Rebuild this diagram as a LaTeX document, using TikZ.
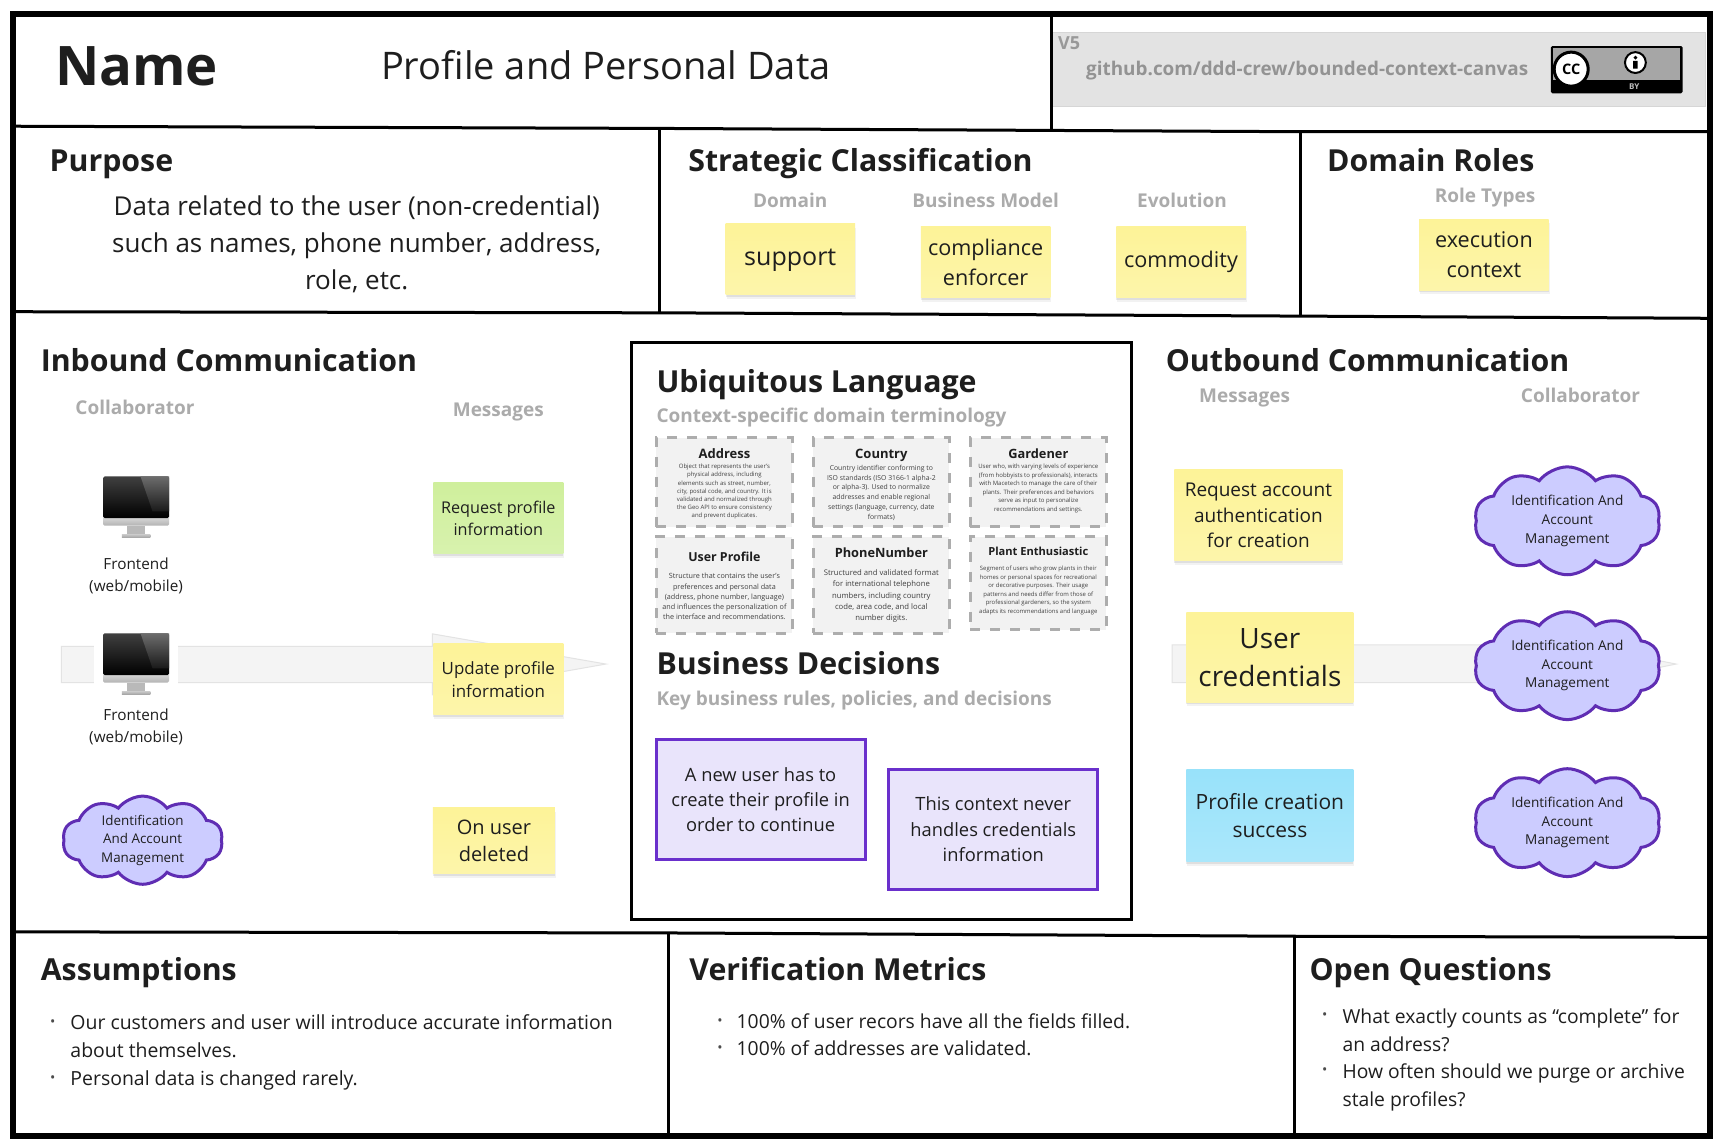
\documentclass[tikz,border=0pt]{standalone}
\usepackage{fontspec}
\setmainfont{Open Sans}
\usetikzlibrary{shapes.symbols,shadows}
\definecolor{ink}{HTML}{1E1E1E}
\definecolor{hint}{HTML}{ABABAB}
\definecolor{noteyellow}{HTML}{FDF398}
\definecolor{notegreen}{HTML}{CFEF9C}
\definecolor{noteblue}{HTML}{98E2FA}
\definecolor{cloudfill}{HTML}{CCCCFF}
\definecolor{violet}{HTML}{5F2DB3}
\definecolor{rulefill}{HTML}{E9E4FB}
\definecolor{rulelinecol}{HTML}{6A30CC}
\newcommand{\fs}[2]{\fontsize{#1}{#2}\selectfont}
\tikzset{
  heading/.style={font=\bfseries\fs{30.3}{34},text=ink,anchor=west,inner sep=0,text height=22.4pt,text depth=0pt},
  hinttext/.style={font=\bfseries\fs{19}{22},text=hint,inner sep=0,text height=14pt,text depth=0pt},
  body/.style={font=\fs{19.3}{27.6},text=ink,align=left,anchor=west,inner sep=0},
  dot/.style={font=\fs{14}{14},text=ink!80,inner sep=0},
  note/.style={top color=#1,bottom color=#1!82!white,text=ink,align=center,inner sep=0,
    drop shadow={shadow xshift=0pt,shadow yshift=-2pt,opacity=.08,fill=black},
    drop shadow={shadow xshift=1pt,shadow yshift=-4pt,opacity=.05,fill=black}},
  rulebox/.style={draw=rulelinecol,line width=3pt,fill=rulefill,text=ink,align=center,
    minimum width=209pt,minimum height=120pt,inner sep=0,font=\fs{18.3}{25.3}},
  term/.style={draw=black!32,fill=black!5,line width=2.8pt,dash pattern=on 10pt off 10pt,
    minimum width=136pt,inner sep=0},
  termhead/.style={font=\bfseries\fs{13}{16},text=ink,inner sep=0,text height=9.6pt,text depth=0pt},
  termtext/.style={text=ink!85,align=center,inner sep=0},
  team/.style={shape=cloud,cloud puffs=10,cloud puff arc=105,aspect=1.8,draw=violet,
    line width=3pt,fill=cloudfill,text=ink,align=center,inner sep=0,
    font=\fs{13.6}{18.7}},
  bigarrow/.style={fill=black!4.5,draw=black!11,line width=1pt},
  partline/.style={line width=3pt,black},
  monitor/.pic={
    \fill[white] (-38,-29) rectangle (38,30);
    \fill[gray!55] (-8,17) rectangle (8,25);
    \shade[top color=gray!45,bottom color=gray!75] (-13,25) rectangle (13,28);
    \shade[rounded corners=1.5pt,top color=gray!15,bottom color=gray!60] (-30,5) rectangle (30,17);
    \shade[rounded corners=1.5pt,top color=black!75,bottom color=black] (-30,-28) rectangle (30,10);
    \shade[top color=gray!85!black,bottom color=black!90] (4,-28) -- (30,-28) -- (30,4) -- (15,4) -- cycle;
  }
}
\begin{document}
\begin{tikzpicture}[x=1.0976pt,y=-1.0976pt]
  \useasboundingbox (0,0) rectangle (1568,1042.3);
  \fill[white] (0,0) rectangle (1568,1042.3);

  % big arrows, they sit behind the stickers
  \draw[bigarrow] (56,589) -- (394,589) -- (394,577.5) -- (552,605) -- (394,633) -- (394,622) -- (56,622) -- cycle;
  \draw[bigarrow] (1068,587.5) -- (1390,587.5) -- (1390,577.5) -- (1527,605) -- (1390,633) -- (1390,622) -- (1068,622) -- cycle;

  % banner
  \draw[black!16,fill=black!11] (958,29) rectangle (1554,96.5);
  \node[font=\bfseries\fs{18}{20},text=gray!80,inner sep=0] (version) at (974,39) {V5};
  \node[font=\bfseries\fs{18.9}{20},text=gray!85,inner sep=0] (repo) at (1191,64) {github.com/ddd-crew/bounded-context-canvas};
  \fill[black,rounded corners=1.5pt] (1413,42) rectangle (1533,85);
  \fill[gray!70] (1415,44) rectangle (1531,73);
  \draw[black,line width=3pt,fill=white] (1431.5,63) circle (15.5);
  \node[font=\bfseries\fs{14.5}{15},inner sep=0] (ccmark) at (1431.5,63) {CC};
  \draw[black,line width=2pt,fill=white] (1490,57) circle (9.5);
  \fill[black] (1490,52.5) circle (1.8) (1488,55.5) rectangle (1492,62.5);
  \node[font=\bfseries\fs{8}{8},text=gray!50,inner sep=0] (byline) at (1489,79) {BY};

  % top row
  \node[font=\bfseries\fs{54.5}{60},text=ink,anchor=west,inner sep=0] (name) at (50,60) {Name};
  \node[font=\fs{38}{42},text=ink,inner sep=0] (contextname) at (552,59) {Profile and Personal Data};

  % purpose
  \node[heading] (purpose) at (45,146) {Purpose};
  \node[font=\fs{26}{37},text=ink,align=center,inner sep=0] (purposetext) at (325,223)
    {Data related to the user (non-credential)\\such as names, phone number, address,\\role, etc.};

  % classification
  \node[heading] (classification) at (627,146) {Strategic Classification};
  \node[hinttext] (domainhint) at (720,183) {Domain};
  \node[hinttext] (modelhint) at (898,183) {Business Model};
  \node[hinttext] (evolutionhint) at (1077,183) {Evolution};
  \node[note=noteyellow,minimum width=129.5pt,minimum height=71pt,font=\fs{25}{30}] (support) at (720,236) {\raisebox{-6.5pt}[0pt][0pt]{support}};
  \node[note=noteyellow,minimum width=129.5pt,minimum height=71pt,font=\fs{21.6}{29.5}] (compliance) at (898,239) {compliance\\enforcer};
  \node[note=noteyellow,minimum width=129.5pt,minimum height=71pt,font=\fs{21.6}{29.5}] (commodity) at (1076,239) {\raisebox{-4.7pt}[0pt][0pt]{commodity}};

  % roles
  \node[heading] (roles) at (1209,146) {Domain Roles};
  \node[hinttext] (rolehint) at (1353,178) {Role Types};
  \node[note=noteyellow,minimum width=129.5pt,minimum height=71pt,font=\fs{21.6}{29.5}] (execution) at (1352,232) {execution\\context};

  % inbound
  \node[heading] (inbound) at (37,328) {Inbound Communication};
  \node[hinttext] (incollab) at (123,371) {Collaborator};
  \node[hinttext] (inmsg) at (454,373) {Messages};
  \pic at (124,462) {monitor};
  \pic at (124,605) {monitor};
  \node[font=\fs{15.3}{22},text=ink,align=center,inner sep=0] (frontenda) at (124,525) {Frontend\\(web/mobile)};
  \node[font=\fs{15.3}{22},text=ink,align=center,inner sep=0] (frontendb) at (124,662) {Frontend\\(web/mobile)};
  \node[team,font=\fs{13.4}{18.7},minimum width=160pt,minimum height=88pt] (iama) at (130,765.5) {Identification\\And Account\\Management};
  \node[note=notegreen,minimum width=130pt,minimum height=71pt,font=\fs{16.2}{22}] (reqprofile) at (454,472) {Request profile\\information};
  \node[note=noteyellow,minimum width=130pt,minimum height=71pt,font=\fs{16.9}{23}] (updprofile) at (454,619) {Update profile\\information};
  \node[note=noteyellow,minimum width=122pt,minimum height=66pt,font=\fs{20}{27}] (deleted) at (450,766) {On user\\deleted};

  % language box
  \draw[line width=3pt,fill=white] (575,312) rectangle (1031,838);
  \node[heading] (language) at (598,347) {Ubiquitous Language};
  \node[hinttext,anchor=west] (languagehint) at (598,379) {Context-specific domain terminology};
  % glossary
  \node[term,minimum height=89pt] (address) at (660,439.5) {};
  \node[term,minimum height=89pt] (country) at (803,439.5) {};
  \node[term,minimum height=89pt] (gardener) at (946,439.5) {};
  \node[term,minimum height=96.5pt] (userprofile) at (660,533) {};
  \node[term,minimum height=96.5pt] (phone) at (803,533) {};
  \node[term,minimum height=93pt] (plant) at (946,531.5) {};
  \node[termhead] (addresshead) at (660,413) {Address};
  \node[termhead] (countryhead) at (803,413) {Country};
  \node[termhead,font=\bfseries\fs{12.8}{16}] (gardenerhead) at (946,413) {Gardener};
  \node[termhead,font=\bfseries\fs{12.4}{16}] (userprofilehead) at (660,507.5) {User Profile};
  \node[termhead,font=\bfseries\fs{12.8}{16}] (phonehead) at (803,503.5) {PhoneNumber};
  \node[termhead,font=\bfseries\fs{11.1}{15}] (planthead) at (946,502) {Plant Enthusiastic};
  \node[termtext,font=\fs{6}{8.2}] (addresstext) at (660,448) {Object that represents the user's\\physical address, including\\elements such as street, number,\\city, postal code, and country. It is\\validated and normalized through\\the Geo API to ensure consistency\\and prevent duplicates.};
  \node[termtext,font=\fs{6.85}{9.8}] (countrytext) at (803,449) {Country identifier conforming to\\ISO standards (ISO 3166-1 alpha-2\\or alpha-3). Used to normalize\\addresses and enable regional\\settings (language, currency, date\\formats)};
  \node[termtext,font=\fs{6}{8.5}] (gardenertext) at (946,445) {User who, with varying levels of experience\\(from hobbyists to professionals), interacts\\with Macetech to manage the care of their\\plants. Their preferences and behaviors\\serve as input to personalize\\recommendations and settings.};
  \node[termtext,font=\fs{7.2}{10.2}] (userprofiletext) at (660,543.5) {Structure that contains the user's\\preferences and personal data\\(address, phone number, language)\\and influences the personalization of\\the interface and recommendations.};
  \node[termtext,font=\fs{7.7}{11.2}] (phonetext) at (803,543) {Structured and validated format\\for international telephone\\numbers, including country\\code, area code, and local\\number digits.};
  \node[termtext,font=\fs{5.95}{8.6}] (planttext) at (946,538) {Segment of users who grow plants in their\\homes or personal spaces for recreational\\or decorative purposes. Their usage\\patterns and needs differ from those of\\professional gardeners, so the system\\adapts its recommendations and language};

  % decisions
  \node[heading] (decisions) at (598,604) {Business Decisions};
  \node[hinttext,anchor=west] (decisionshint) at (598,636) {Key business rules, policies, and decisions};
  \node[rulebox] (newuser) at (693,728.5) {A new user has to\\create their profile in\\order to continue};
  \node[rulebox] (nocreds) at (905,755.5) {This context never\\handles credentials\\information};

  % outbound
  \node[heading] (outbound) at (1062,328) {Outbound Communication};
  \node[hinttext] (outmsg) at (1134,360) {Messages};
  \node[hinttext] (outcollab) at (1440,360) {Collaborator};
  \node[note=noteyellow,minimum width=168pt,minimum height=91pt,font=\fs{19}{25.5}] (reqaccount) at (1146.5,469.5) {Request account\\authentication\\for creation};
  \node[note=noteyellow,minimum width=167pt,minimum height=90pt,font=\fs{28}{37.5}] (credentials) at (1157,599) {User\\credentials};
  \node[note=noteblue,minimum width=167pt,minimum height=92pt,font=\fs{21}{28.5}] (creation) at (1157,743) {Profile creation\\success};
  \foreach \yy/\id in {474.5/a,606.5/b,749.5/c}
    \node[team,minimum width=186pt,minimum height=99pt] (iamout\id) at (1428,\yy) {Identification And\\Account\\Management};

  % assumptions
  \node[heading] (assumptions) at (37,883) {Assumptions};
  \node[dot] (dota) at (48,932) {•};
  \node[dot] (dotb) at (48,983) {•};
  \node[body,font=\fs{19.45}{28},anchor=north west] (assumea) at (64,924) {Our customers and user will introduce accurate information\\about themselves.};
  \node[body,font=\fs{19.45}{28},anchor=north west] (assumeb) at (64,975.5) {Personal data is changed rarely.};

  % metrics
  \node[heading] (metrics) at (628,883) {Verification Metrics};
  \node[dot] (dotc) at (656,931) {•};
  \node[dot] (dotd) at (656,956) {•};
  \node[body] (metrica) at (671,930.5) {100\% of user recors have all the fields filled.};
  \node[body] (metricb) at (671,955.5) {100\% of addresses are validated.};

  % questions
  \node[heading] (questions) at (1193,883) {Open Questions};
  \node[dot] (dote) at (1207,926) {•};
  \node[dot] (dotf) at (1207,976) {•};
  \node[body,anchor=north west] (questiona) at (1223,919) {What exactly counts as “complete” for\\an address?};
  \node[body,anchor=north west] (questionb) at (1223,969) {How often should we purge or archive\\stale profiles?};

  % frame and parts
  \draw[line width=6pt,line join=miter] (12,13) rectangle (1558,1035);
  \draw[partline] (12,115) -- (600,117) -- (1185,120) -- (1558,120);
  \draw[partline] (958,13) -- (958,118);
  \draw[partline] (12,284) -- (601,285) -- (1185,288) -- (1558,290);
  \draw[partline] (601,117) -- (601,285);
  \draw[partline] (1185,120) -- (1185,288);
  \draw[partline] (12,849) -- (609,850) -- (1179,853) -- (1558,854);
  \draw[partline] (609,850) -- (609,1035);
  \draw[partline] (1179,853) -- (1179,1035);
\end{tikzpicture}
\end{document}
